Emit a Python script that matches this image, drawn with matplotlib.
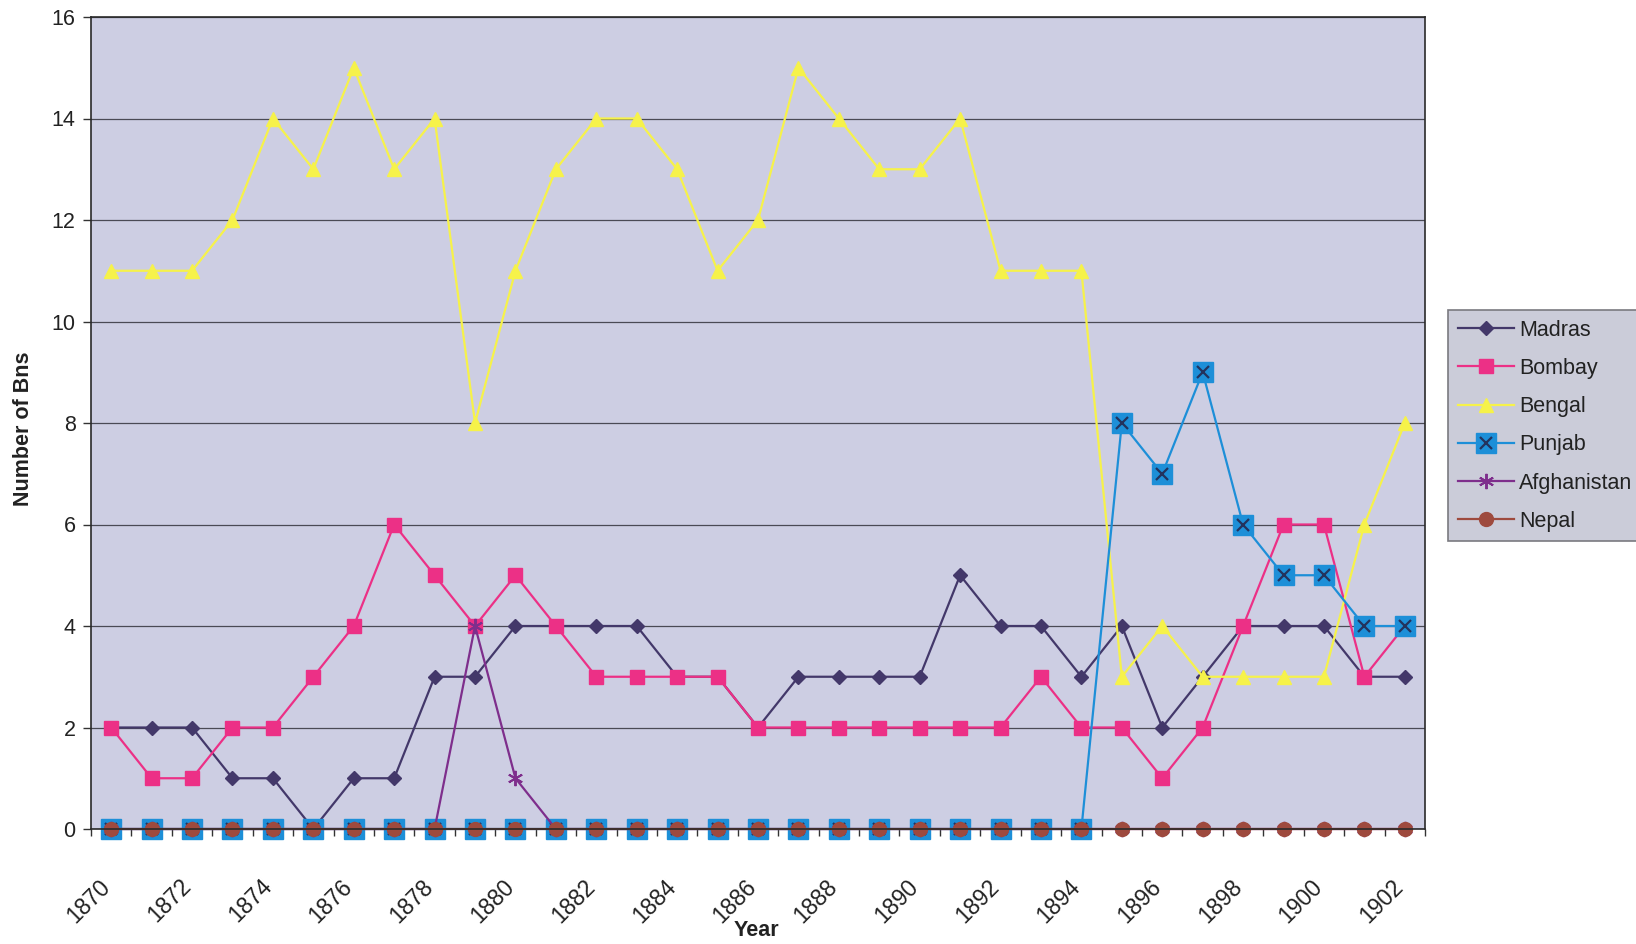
import matplotlib
matplotlib.use("Agg")
import matplotlib.pyplot as plt
from matplotlib.lines import Line2D
from matplotlib.legend_handler import HandlerTuple
from matplotlib.transforms import ScaledTranslation

plt.rcParams['font.family'] = ['Liberation Sans', 'DejaVu Sans']

years = list(range(1870, 1903))

madras = [2, 2, 2, 1, 1, 0, 1, 1, 3, 3, 4, 4, 4, 4, 3, 3, 2, 3, 3, 3, 3, 5,
          4, 4, 3, 4, 2, 3, 4, 4, 4, 3, 3]
bombay = [2, 1, 1, 2, 2, 3, 4, 6, 5, 4, 5, 4, 3, 3, 3, 3, 2, 2, 2, 2, 2, 2,
          2, 3, 2, 2, 1, 2, 4, 6, 6, 3, 4]
bengal = [11, 11, 11, 12, 14, 13, 15, 13, 14, 8, 11, 13, 14, 14, 13, 11, 12,
          15, 14, 13, 13, 14, 11, 11, 11, 3, 4, 3, 3, 3, 3, 6, 8]
punjab = [0] * 25 + [8, 7, 9, 6, 5, 5, 4, 4]
afghanistan = [0] * 9 + [4, 1] + [0] * 22
nepal = [0] * 33

tick_years = [str(y) for y in years[::2]]

c_madras = '#43386A'
c_bombay = '#EC3086'
c_bengal = '#F6F24A'
c_punjab = '#1D8FD8'
c_punjab_x = '#23335E'
c_afghan = '#7E2E8C'
c_nepal = '#9E4A3E'

ms_madras, ms_bombay, ms_bengal = 7, 10, 10.5
ms_punjab, ms_punjab_x, ms_afghan, ms_nepal = 15, 9, 11, 10

W, H = 1636, 944
fig = plt.figure(figsize=(W / 100, H / 100), dpi=100)
ax = fig.add_axes([91 / W, 1 - 829 / H, (1425 - 91) / W, (829 - 17) / H])
ax.set_facecolor('#CDCEE3')

x = list(range(len(years)))
lw = 1.6
kw = dict(clip_on=False, linewidth=lw)

ax.plot(x, madras, color=c_madras, marker='D', markersize=ms_madras, **kw)
ax.plot(x, bombay, color=c_bombay, marker='s', markersize=ms_bombay, **kw)
ax.plot(x, bengal, color=c_bengal, marker='^', markersize=ms_bengal, **kw)
ax.plot(x, punjab, color=c_punjab, marker='s', markersize=ms_punjab, **kw)
ax.plot(x, punjab, linestyle='none', marker='x', markersize=ms_punjab_x,
        markeredgecolor=c_punjab_x, markeredgewidth=1.6, clip_on=False)
ax.plot(x, afghanistan, color=c_afghan, marker=(6, 2, 0), markersize=ms_afghan,
        markeredgewidth=1.4, **kw)
ax.plot(x, nepal, color=c_nepal, marker='o', markersize=ms_nepal, **kw)

ax.set_xlim(-0.5, len(years) - 0.5)
ax.set_ylim(0, 16)
ax.set_yticks(range(0, 17, 2))
ax.yaxis.grid(True, color='#4A4A55', linewidth=0.9)
ax.set_axisbelow(True)

# category boundaries carry the tick marks, labels sit on every second year
ax.set_xticks([i - 0.5 for i in range(len(years) + 1)])
ax.set_xticklabels([])
ax.set_xticks(x[::2], minor=True)
ax.set_xticklabels(tick_years, minor=True, rotation=45, ha='right',
                   va='top', rotation_mode='anchor', fontsize=16.5,
                   color='#222222')
ax.tick_params(axis='x', which='major', length=5, width=1, color='#333333',
               direction='out')
ax.tick_params(axis='x', which='minor', length=0, pad=33)
shift = ScaledTranslation(-13 / 100, 0, fig.dpi_scale_trans)
for lab in ax.get_xticklabels(minor=True):
    lab.set_transform(lab.get_transform() + shift)

ax.tick_params(axis='y', length=6, width=1, color='#333333', labelsize=15.5,
               labelcolor='#222222', pad=5)

for sp in ax.spines.values():
    sp.set_color('#2A2A2A')
    sp.set_linewidth(1.2)

ax.set_xlabel('Year', fontsize=15.5, fontweight='bold', color='#222222',
              labelpad=0)
ax.xaxis.set_label_coords(756 / W, 1 - 920 / H, transform=fig.transFigure)
ax.set_ylabel('Number of Bns', fontsize=15.5, fontweight='bold',
              color='#222222')
ax.yaxis.set_label_coords(34 / W, 1 - 429 / H, transform=fig.transFigure)

h_madras = Line2D([], [], color=c_madras, marker='D', markersize=ms_madras,
                  linewidth=lw)
h_bombay = Line2D([], [], color=c_bombay, marker='s', markersize=ms_bombay,
                  linewidth=lw)
h_bengal = Line2D([], [], color=c_bengal, marker='^', markersize=ms_bengal,
                  linewidth=lw)
h_punjab = (Line2D([], [], color=c_punjab, marker='s', markersize=ms_punjab,
                   linewidth=lw),
            Line2D([], [], linestyle='none', marker='x',
                   markersize=ms_punjab_x, markeredgecolor=c_punjab_x,
                   markeredgewidth=1.6))
h_afghan = Line2D([], [], color=c_afghan, marker=(6, 2, 0),
                  markersize=ms_afghan, markeredgewidth=1.4, linewidth=lw)
h_nepal = Line2D([], [], color=c_nepal, marker='o', markersize=ms_nepal,
                 linewidth=lw)

leg = fig.legend([h_madras, h_bombay, h_bengal, h_punjab, h_afghan, h_nepal],
                 ['Madras', 'Bombay', 'Bengal', 'Punjab', 'Afghanistan', 'Nepal'],
                 loc='upper left', bbox_to_anchor=(1448 / W, 1 - 310 / H),
                 bbox_transform=fig.transFigure, fontsize=15.5,
                 handlelength=2.6, handletextpad=0.25, labelspacing=0.8,
                 borderpad=0.45, borderaxespad=0, fancybox=False,
                 framealpha=1, facecolor='#CBCCD9', edgecolor='#7A7A80',
                 handler_map={tuple: HandlerTuple(ndivide=1, pad=0)})
leg.get_frame().set_linewidth(1.2)
for t in leg.get_texts():
    t.set_color('#222222')

fig.savefig('out.png', dpi=100)
